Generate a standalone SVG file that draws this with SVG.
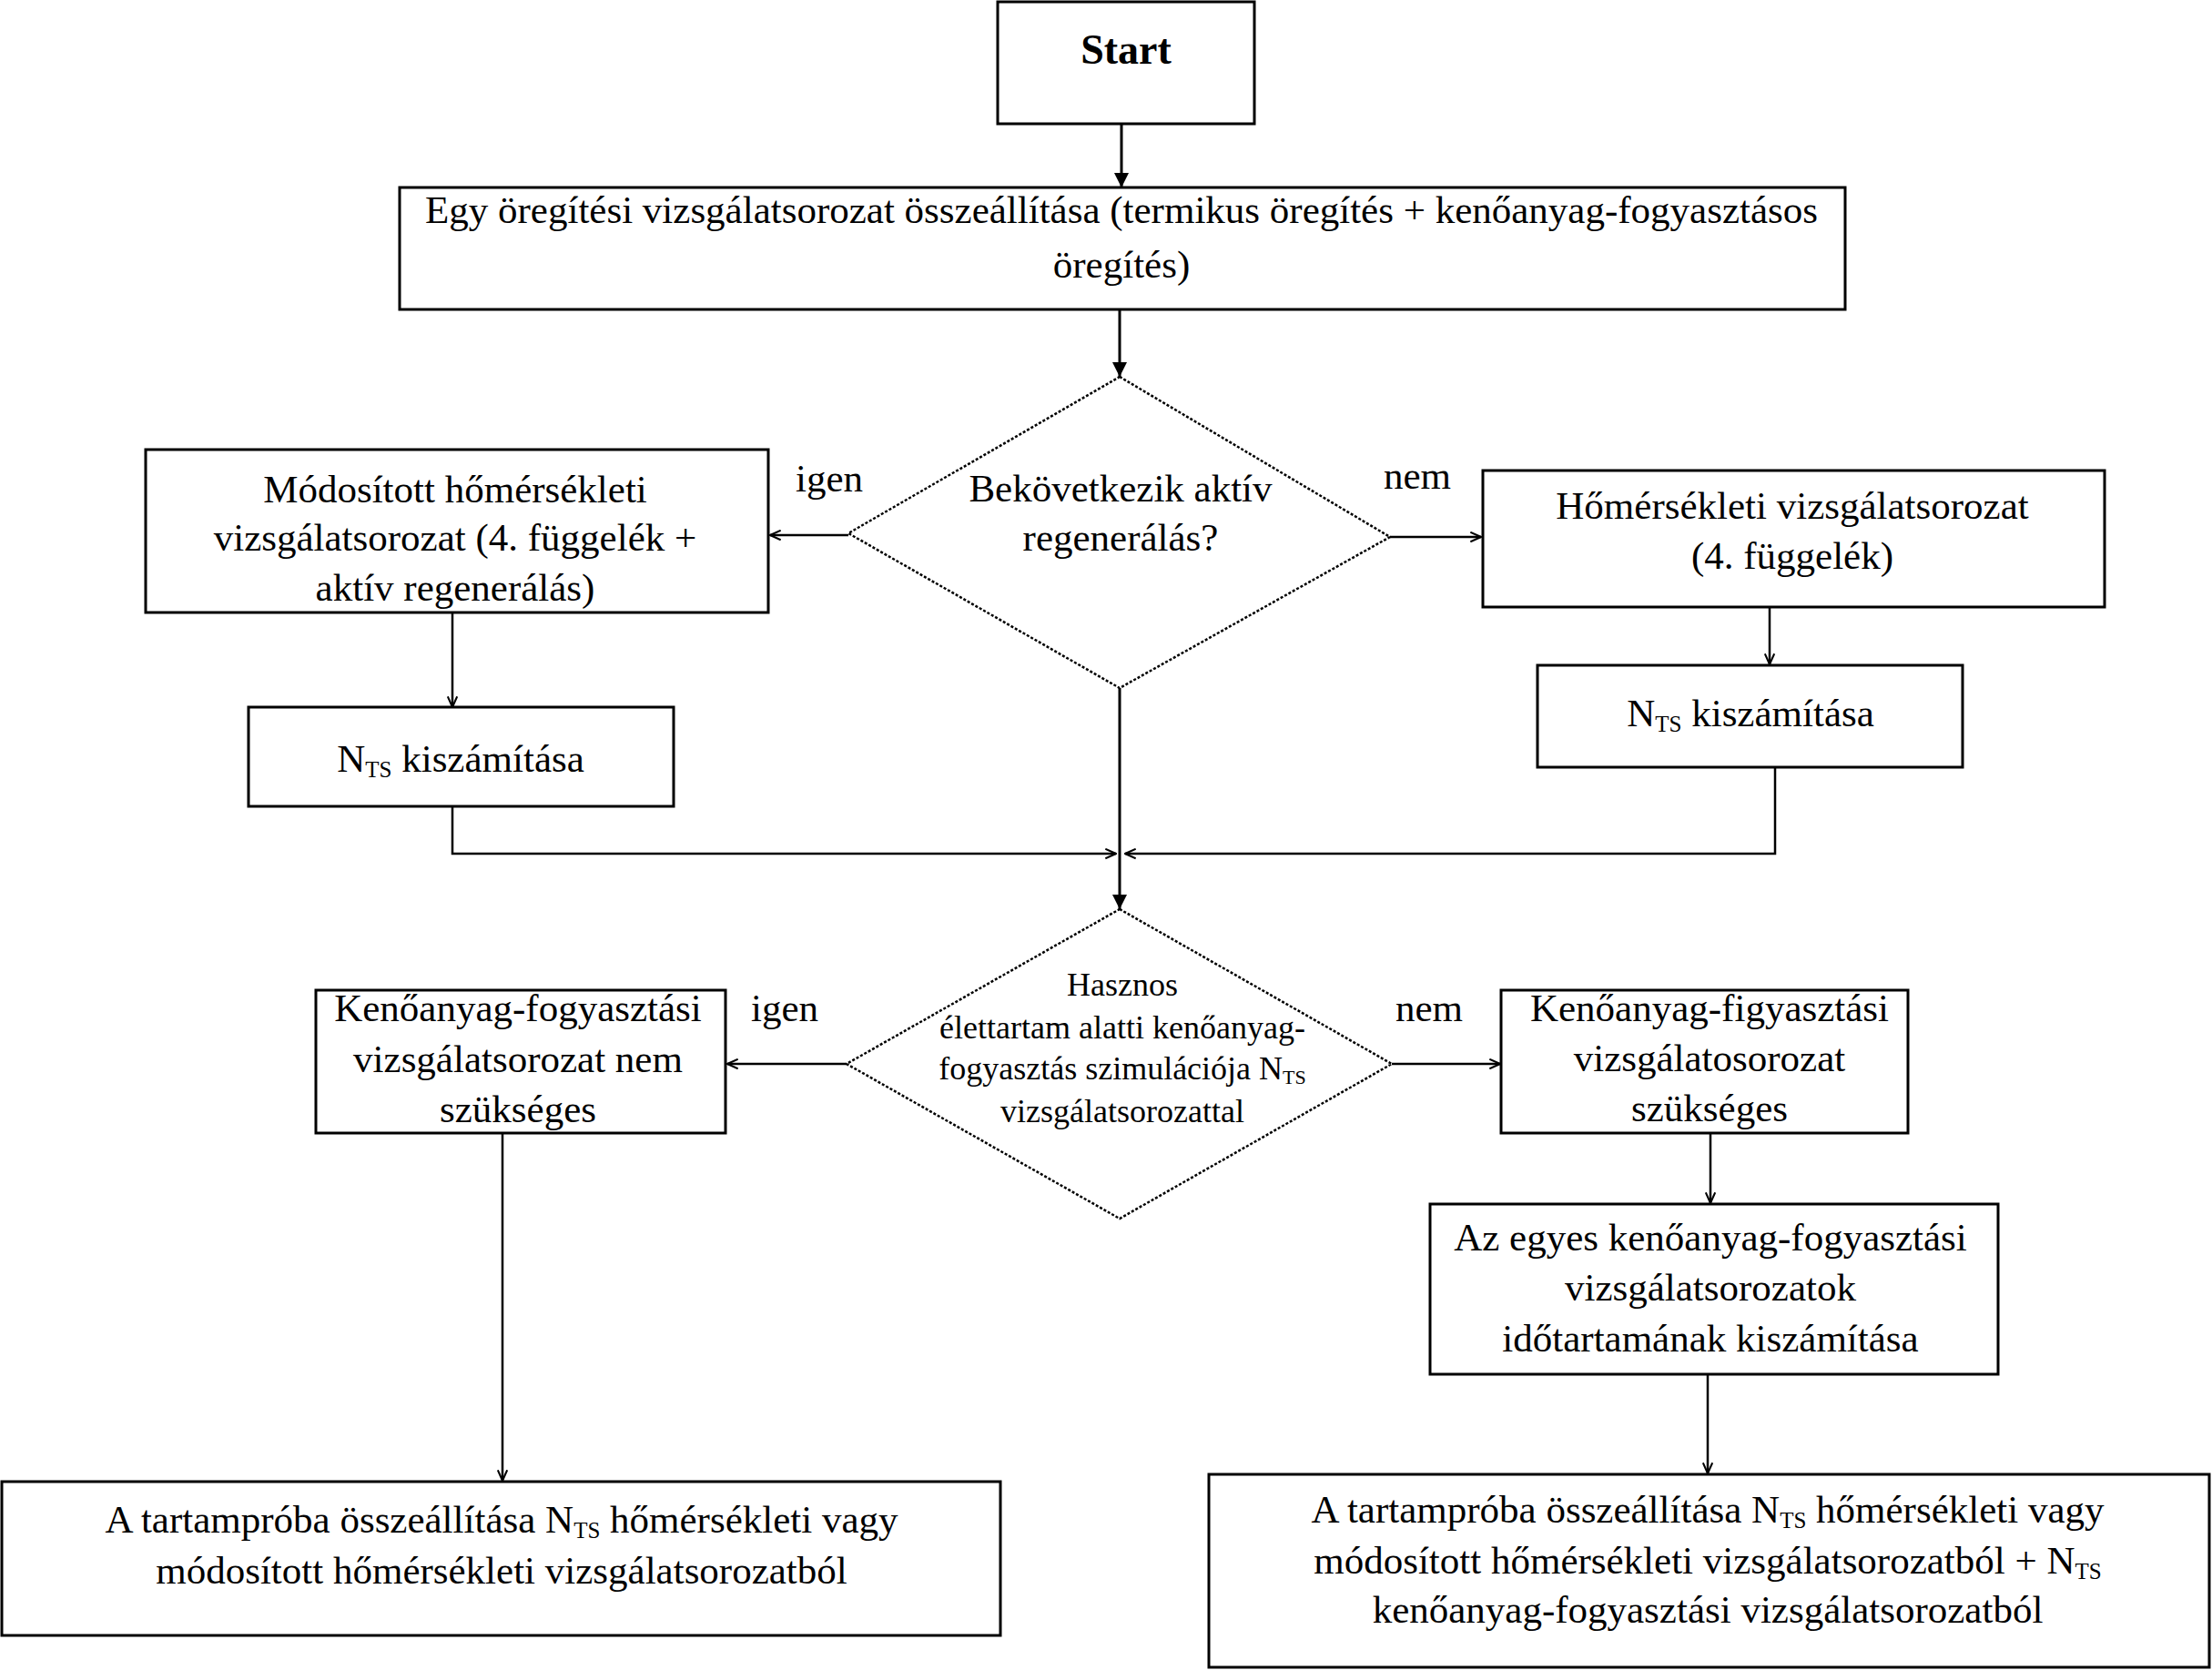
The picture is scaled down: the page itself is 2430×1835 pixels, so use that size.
<svg xmlns="http://www.w3.org/2000/svg" width="2430" height="1835" viewBox="0 0 2430 1835">
<style>
.box{fill:#fff;stroke:#000;stroke-width:3}
.dia{fill:#fff;stroke:#000;stroke-width:2.5;stroke-dasharray:3 2}
.t{font-family:"Liberation Serif","Times New Roman",serif;font-size:43px;fill:#000;text-anchor:middle}
.td{font-family:"Liberation Serif","Times New Roman",serif;font-size:36px;fill:#000;text-anchor:middle}
.lbl{font-family:"Liberation Serif","Times New Roman",serif;font-size:43px;fill:#000}
.b{font-weight:bold;font-size:46px}
.c{fill:none;stroke:#000;stroke-width:2.5}
.cb{fill:none;stroke:#000;stroke-width:3;marker-end:url(#ab)}
.cs{fill:none;stroke:#000;stroke-width:2.5;marker-end:url(#as)}
</style>
<defs>
<marker id="ab" viewBox="0 0 10 10" refX="10" refY="5" markerWidth="20" markerHeight="16" orient="auto" markerUnits="userSpaceOnUse"><path d="M0,0 L10,5 L0,10 z" fill="#000"/></marker>
<marker id="as" viewBox="0 0 10 10" refX="9" refY="5" markerWidth="13" markerHeight="13" orient="auto" markerUnits="userSpaceOnUse"><path d="M0,1 L9,5 L0,9" fill="none" stroke="#000" stroke-width="1.6"/></marker>
</defs>
<rect width="2430" height="1835" fill="#fff"/>
<g id="connectors">
<line class="cb" x1="1232" y1="136" x2="1232" y2="206"/>
<line class="cb" x1="1230" y1="340" x2="1230" y2="414"/>
<line class="cs" x1="932" y1="588" x2="846" y2="588"/>
<line class="cs" x1="1527" y1="590" x2="1627" y2="590"/>
<line class="cs" x1="497" y1="673" x2="497" y2="777"/>
<line class="cs" x1="1944" y1="667" x2="1944" y2="730"/>
<polyline class="cs" points="497,886 497,938 1226,938"/>
<polyline class="cs" points="1950,843 1950,938 1236,938"/>
<line class="cb" x1="1230" y1="756" x2="1230" y2="999"/>
<line class="cs" x1="930" y1="1169" x2="799" y2="1169"/>
<line class="cs" x1="1529" y1="1169" x2="1648" y2="1169"/>
<line class="cs" x1="552" y1="1245" x2="552" y2="1627"/>
<line class="cs" x1="1879" y1="1245" x2="1879" y2="1322"/>
<line class="cs" x1="1876" y1="1510" x2="1876" y2="1619"/>
</g>
<g id="start">
<rect class="box" x="1096" y="2" width="282" height="134"/>
<text class="t b" x="1237" y="70">Start</text>
</g>
<g id="osszeallitas">
<rect class="box" x="439" y="206" width="1588" height="134"/>
<text class="t" x="1232" y="245">Egy öregítési vizsgálatsorozat összeállítása (termikus öregítés + kenőanyag-fogyasztásos</text>
<text class="t" x="1232" y="305">öregítés)</text>
</g>
<g id="dontes1">
<polygon class="dia" points="1230,414 1527,590 1230,756 932,586"/>
<text class="t" x="1231" y="551">Bekövetkezik aktív</text>
<text class="t" x="1231" y="605">regenerálás?</text>
</g>
<g id="modositott">
<rect class="box" x="160" y="494" width="684" height="179"/>
<text class="t" x="500" y="552">Módosított hőmérsékleti</text>
<text class="t" x="500" y="605">vizsgálatsorozat (4. függelék +</text>
<text class="t" x="500" y="660">aktív regenerálás)</text>
</g>
<g id="homersekleti">
<rect class="box" x="1629" y="517" width="683" height="150"/>
<text class="t" x="1969" y="570">Hőmérsékleti vizsgálatsorozat</text>
<text class="t" x="1969" y="625">(4. függelék)</text>
</g>
<g id="nts-bal">
<rect class="box" x="273" y="777" width="467" height="109"/>
<text class="t" x="506" y="848">N<tspan font-size="25" dy="6">TS</tspan><tspan dy="-6"> kiszámítása</tspan></text>
</g>
<g id="nts-jobb">
<rect class="box" x="1689" y="731" width="467" height="112"/>
<text class="t" x="1923" y="798">N<tspan font-size="25" dy="6">TS</tspan><tspan dy="-6"> kiszámítása</tspan></text>
</g>
<g id="labels1">
<text class="lbl" x="874" y="540">igen</text>
<text class="lbl" x="1520" y="537">nem</text>
</g>
<g id="dontes2">
<polygon class="dia" points="1230,999 1529,1169 1230,1339 930,1169"/>
<text class="td" x="1233" y="1094">Hasznos</text>
<text class="td" x="1233" y="1141">élettartam alatti kenőanyag-</text>
<text class="td" x="1233" y="1186">fogyasztás szimulációja N<tspan font-size="22" dy="5">TS</tspan><tspan dy="-5"/></text>
<text class="td" x="1233" y="1233">vizsgálatsorozattal</text>
</g>
<g id="nem-szukseges">
<rect class="box" x="347" y="1088" width="450" height="157"/>
<text class="t" x="569" y="1122">Kenőanyag-fogyasztási</text>
<text class="t" x="569" y="1178">vizsgálatsorozat nem</text>
<text class="t" x="569" y="1233">szükséges</text>
</g>
<g id="szukseges">
<rect class="box" x="1649" y="1088" width="447" height="157"/>
<text class="t" x="1878" y="1122">Kenőanyag-figyasztási</text>
<text class="t" x="1878" y="1177">vizsgálatosorozat</text>
<text class="t" x="1878" y="1232">szükséges</text>
</g>
<g id="labels2">
<text class="lbl" x="825" y="1122">igen</text>
<text class="lbl" x="1533" y="1122">nem</text>
</g>
<g id="idotartam">
<rect class="box" x="1571" y="1323" width="624" height="187"/>
<text class="t" x="1879" y="1374">Az egyes kenőanyag-fogyasztási</text>
<text class="t" x="1879" y="1429">vizsgálatsorozatok</text>
<text class="t" x="1879" y="1485">időtartamának kiszámítása</text>
</g>
<g id="tartamproba-bal">
<rect class="box" x="2" y="1628" width="1097" height="169"/>
<text class="t" x="551" y="1684">A tartampróba összeállítása N<tspan font-size="25" dy="6">TS</tspan><tspan dy="-6"> hőmérsékleti vagy</tspan></text>
<text class="t" x="551" y="1740">módosított hőmérsékleti vizsgálatsorozatból</text>
</g>
<g id="tartamproba-jobb">
<rect class="box" x="1328" y="1620" width="1099" height="212"/>
<text class="t" x="1876" y="1673">A tartampróba összeállítása N<tspan font-size="25" dy="6">TS</tspan><tspan dy="-6"> hőmérsékleti vagy</tspan></text>
<text class="t" x="1876" y="1729">módosított hőmérsékleti vizsgálatsorozatból + N<tspan font-size="25" dy="6">TS</tspan><tspan dy="-6"/></text>
<text class="t" x="1876" y="1783">kenőanyag-fogyasztási vizsgálatsorozatból</text>
</g>
</svg>
